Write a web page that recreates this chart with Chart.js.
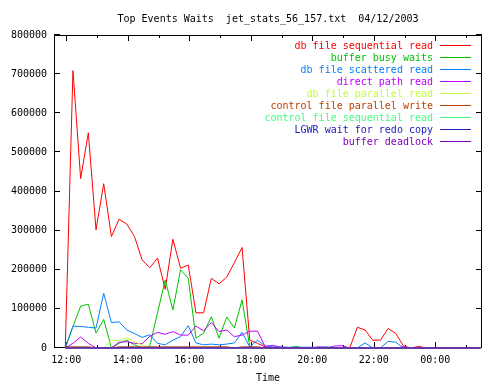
<!DOCTYPE html>
<html>
<head>
<meta charset="utf-8">
<script src="https://cdn.jsdelivr.net/npm/chart.js@4.4.1/dist/chart.umd.min.js"></script>
<style>
html,body{margin:0;padding:0;background:#fff;}
#wrap{width:500px;height:384px;}
canvas{display:block;}
</style>
</head>
<body>
<div id="wrap"><canvas id="c" width="500" height="384"></canvas></div>
<script>
const titleText = 'Top Events Waits  jet_stats_56_157.txt  04/12/2003';
const xAxisTitle = 'Time';

const times = [
  '11:58','12:13','12:28','12:43','12:58','13:13','13:28','13:43','13:58','14:13',
  '14:28','14:43','14:58','15:13','15:28','15:43','15:58','16:13','16:28','16:43',
  '16:58','17:13','17:28','17:43','17:58','18:13','18:28','18:43','18:58','19:13',
  '19:28','19:43','19:58','20:13','20:28','20:43','20:58','21:13','21:28','21:43',
  '21:58','22:13','22:28','22:43','22:58','23:13','23:28','23:43','23:58','00:13',
  '00:28','00:43','00:58','01:13','01:28'
];

const seriesNames = [
  'db file sequential read',
  'buffer busy waits',
  'db file scattered read',
  'direct path read',
  'db file parallel read',
  'control file parallel write',
  'control file sequential read',
  'LGWR wait for redo copy',
  'buffer deadlock'
];

const seriesColors = ['#ff0000','#00c000','#0080ff','#c000ff','#c0ff40','#c04000','#40ff80','#2020c0','#8000c0'];

const dbFileSequentialRead = [
  0, 709000, 433000, 550000, 302000, 420000, 285000, 329000, 317000, 285000,
  225000, 205000, 230000, 150000, 278000, 204000, 212000, 90000, 90000, 178000,
  164000, 181000, 218000, 257000, 20000, 12000, 3000, 0, 2000, 0,
  0, 0, 0, 0, 2000, 0, 0, 0, 53000, 46000,
  20000, 20000, 50000, 37000, 5000, 0, 4000, 0, 0, 0,
  0, 0, 0, 0, 0
];
const bufferBusyWaits = [
  0, 55000, 107000, 112000, 38000, 73000, 0, 12000, 20000, 8000,
  0, 5000, 90000, 174000, 97000, 200000, 178000, 25000, 38000, 80000,
  25000, 79000, 51000, 123000, 3000, 0, 0, 0, 0, 0,
  4000, 0, 0, 0, 0, 0, 0, 0, 0, 0,
  0, 0, 0, 0, 0, 0, 0, 0, 0, 0,
  0, 0, 0, 0, 0
];
const dbFileScatteredRead = [
  0, 56000, 55000, 53000, 51000, 140000, 65000, 67000, 46000, 37000,
  27000, 34000, 12000, 8000, 20000, 29000, 57000, 13000, 8000, 10000,
  8000, 10000, 13000, 40000, 3000, 20000, 5000, 3000, 3000, 2000,
  2000, 2000, 2000, 2000, 3000, 0, 0, 0, 0, 13000,
  0, 0, 17000, 15000, 0, 0, 0, 0, 0, 0,
  0, 0, 0, 0, 0
];
const directPathRead = [
  0, 12000, 28000, 12000, 0, 0, 0, 15000, 16000, 12000,
  11000, 30000, 40000, 35000, 42000, 33000, 33000, 56000, 44000, 65000,
  42000, 46000, 29000, 33000, 43000, 43000, 4000, 7000, 2000, 0,
  0, 0, 0, 3000, 0, 5000, 6000, 0, 0, 0,
  0, 0, 0, 0, 3000, 0, 0, 0, 0, 0,
  0, 0, 0, 0, 0
];
const dbFileParallelRead = [
  0, 0, 0, 0, 0, 0, 20000, 19000, 26000, 16000,
  8000, 0, 0, 0, 0, 0, 0, 0, 0, 0,
  0, 0, 0, 0, 0, 0, 0, 0, 0, 0,
  0, 0, 0, 0, 0, 0, 0, 0, 0, 0,
  0, 0, 0, 0, 0, 0, 0, 0, 0, 0,
  0, 0, 0, 0, 0
];
const controlFileParallelWrite = [
  3000, 3000, 3000, 3000, 0, 0, 0, 3000, 3000, 3000,
  3000, 3000, 3000, 3000, 3000, 3000, 3000, 3000, 3000, 3000,
  3000, 3000, 0, 3000, 3000, 3000, 0, 0, 0, 0,
  0, 0, 0, 0, 0, 0, 0, 0, 0, 0,
  0, 0, 0, 0, 0, 0, 0, 0, 0, 0,
  0, 0, 0, 0, 0
];
const controlFileSequentialRead = [
  0, 0, 0, 0, 0, 0, 0, 0, 0, 0,
  0, 0, 0, 0, 0, 0, 0, 0, 0, 0,
  0, 0, 0, 0, 0, 0, 0, 0, 0, 0,
  0, 0, 0, 0, 0, 0, 0, 0, 0, 0,
  0, 0, 0, 0, 0, 0, 0, 0, 0, 0,
  0, 0, 0, 0, 0
];
const lgwrWaitForRedoCopy = [
  0, 0, 0, 0, 0, 0, 0, 0, 0, 0,
  0, 0, 0, 0, 0, 0, 0, 0, 0, 0,
  0, 0, 0, 0, 0, 0, 0, 0, 0, 0,
  0, 0, 0, 0, 0, 0, 0, 0, 0, 0,
  0, 0, 0, 0, 0, 0, 0, 0, 0, 0,
  0, 0, 0, 0, 0
];
const bufferDeadlock = [
  0, 0, 0, 0, 0, 0, 0, 0, 0, 0,
  0, 0, 0, 0, 0, 0, 0, 0, 0, 0,
  0, 0, 0, 0, 0, 0, 0, 0, 0, 0,
  0, 0, 0, 0, 0, 0, 0, 0, 0, 0,
  0, 0, 0, 0, 0, 0, 0, 0, 0, 0,
  0, 0, 0, 0, 0
];

const yTickValues = [0, 100000, 200000, 300000, 400000, 500000, 600000, 700000, 800000];
const xTickHours = [12, 13, 14, 15, 16, 17, 18, 19, 20, 21, 22, 23, 24, 25];
const xMinHour = 11.6;
const xMaxHour = 25.52;

const seriesValues = [
  dbFileSequentialRead, bufferBusyWaits, dbFileScatteredRead, directPathRead,
  dbFileParallelRead, controlFileParallelWrite, controlFileSequentialRead,
  lgwrWaitForRedoCopy, bufferDeadlock
];

const FONT_FAMILY = '"DejaVu Sans Mono", "Liberation Mono", monospace';
Chart.defaults.font.family = FONT_FAMILY;
Chart.defaults.font.size = 10;
Chart.defaults.color = '#000';

const hours = times.map(t => {
  const [h, m] = t.split(':').map(Number);
  let v = h + m / 60;
  if (v < 11) v += 24;
  return v;
});

const datasets = seriesValues.map((vals, i) => ({
  label: seriesNames[i],
  data: vals.map((v, j) => ({x: hours[j], y: v})),
  borderColor: seriesColors[i],
  backgroundColor: seriesColors[i],
  borderWidth: 1,
  pointRadius: 0,
  tension: 0,
  fill: false,
  clip: false,
  order: seriesValues.length - i
}));

const framePlugin = {
  id: 'frame',
  beforeDatasetsDraw(chart) {
    const {ctx, chartArea, scales} = chart;
    const L = chartArea.left, R = chartArea.right, T = chartArea.top, B = chartArea.bottom;
    ctx.save();
    ctx.strokeStyle = '#000';
    ctx.lineWidth = 1;
    ctx.beginPath();
    ctx.moveTo(L + 0.5, T + 0.5);
    ctx.lineTo(R - 0.5, T + 0.5);
    ctx.lineTo(R - 0.5, B - 0.5);
    ctx.lineTo(L + 0.5, B - 0.5);
    ctx.closePath();
    scales.y.ticks.forEach(t => {
      const py = Math.round(scales.y.getPixelForValue(t.value)) - 0.5;
      ctx.moveTo(L, py); ctx.lineTo(L + 6, py);
      ctx.moveTo(R, py); ctx.lineTo(R - 6, py);
    });
    scales.x.ticks.forEach(t => {
      const px = Math.round(scales.x.getPixelForValue(t.value)) + 0.5;
      const len = (t.value % 2 === 0) ? 6 : 3;
      ctx.moveTo(px, B); ctx.lineTo(px, B - len);
      ctx.moveTo(px, T); ctx.lineTo(px, T + len);
    });
    ctx.stroke();
    ctx.restore();
  },
  afterDraw(chart) {
    const {ctx, chartArea} = chart;
    ctx.save();
    ctx.font = '10px ' + FONT_FAMILY;
    ctx.fillStyle = '#000';
    ctx.textAlign = 'center';
    ctx.textBaseline = 'alphabetic';
    ctx.fillText(titleText, (chartArea.left + chartArea.right) / 2, 22);
    const textRight = chartArea.right - 49;
    const lineL = chartArea.right - 42;
    const lineR = chartArea.right - 11;
    chart.data.datasets.forEach((ds, i) => {
      const yy = chartArea.top + 10 + 12 * i;
      ctx.fillStyle = ds.borderColor;
      ctx.textAlign = 'right';
      ctx.fillText(ds.label, textRight, yy + 4);
      ctx.fillRect(lineL, yy, lineR - lineL, 1);
    });
    ctx.restore();
  }
};

new Chart(document.getElementById('c'), {
  type: 'line',
  data: {datasets},
  options: {
    responsive: false,
    animation: false,
    devicePixelRatio: 1,
    layout: {padding: {top: 35, right: 18, bottom: 0, left: 0}},
    plugins: {
      legend: {display: false},
      title: {display: false},
      tooltip: {enabled: false}
    },
    scales: {
      x: {
        type: 'linear',
        min: xMinHour,
        max: xMaxHour,
        afterBuildTicks: s => { s.ticks = xTickHours.map(v => ({value: v})); },
        afterFit: s => { s.height = 36; },
        grid: {display: false, drawTicks: false},
        border: {display: false},
        ticks: {
          autoSkip: false,
          maxRotation: 0,
          padding: 6,
          color: '#000',
          callback: v => (v % 2 === 0) ? String(v % 24).padStart(2, '0') + ':00' : ''
        },
        title: {display: true, text: xAxisTitle, color: '#000', padding: {top: 0, bottom: 0}}
      },
      y: {
        min: 0,
        max: 800000,
        afterBuildTicks: s => { s.ticks = yTickValues.map(v => ({value: v})); },
        afterFit: s => { s.width = 54; },
        grid: {display: false, drawTicks: false},
        border: {display: false},
        ticks: {padding: 7, color: '#000', callback: v => String(v)}
      }
    }
  },
  plugins: [framePlugin]
});
</script>
</body>
</html>
